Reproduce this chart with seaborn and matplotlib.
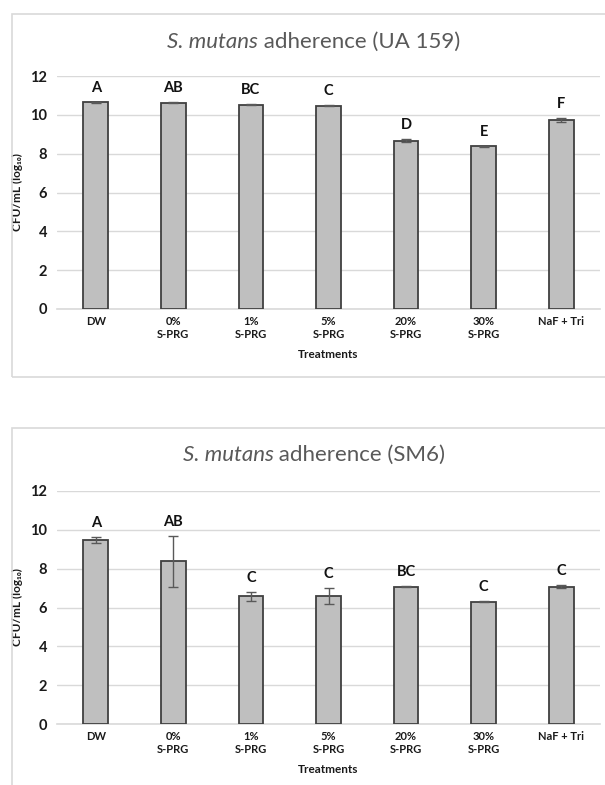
import matplotlib
matplotlib.use("Agg")
import matplotlib.pyplot as plt
import seaborn as sns
import pandas as pd
from matplotlib.patches import Rectangle

# Data
treatments = ["DW", "0%\nS-PRG", "1%\nS-PRG", "5%\nS-PRG", "20%\nS-PRG", "30%\nS-PRG", "NaF + Tri"]

ua159_mean = [10.65, 10.62, 10.52, 10.48, 8.67, 8.38, 9.75]
ua159_err = [0.02, 0.02, 0.02, 0.02, 0.08, 0.04, 0.10]
ua159_letters = ["A", "AB", "BC", "C", "D", "E", "F"]

sm6_mean = [9.47, 8.37, 6.57, 6.60, 7.07, 6.30, 7.07]
sm6_err = [0.15, 1.32, 0.25, 0.40, 0.03, 0.03, 0.07]
sm6_letters = ["A", "AB", "C", "C", "BC", "C", "C"]

panels = [
    ("UA 159", ua159_mean, ua159_err, ua159_letters),
    ("SM6", sm6_mean, sm6_err, sm6_letters),
]

sns.set_style("white")
plt.rcParams["font.family"] = ["Lato", "DejaVu Sans"]

fig = plt.figure(figsize=(6.05, 7.85), dpi=100)
W, H = 605, 785

# Panel frames (the Excel chart areas)
fig.patches.append(Rectangle((12 / W, 1 - 377 / H), 1.0, (377 - 14) / H,
                             transform=fig.transFigure, fill=False,
                             edgecolor="#d9d9d9", lw=1.2))
fig.patches.append(Rectangle((12 / W, -0.05), 1.0, (785 - 428) / H + 0.05,
                             transform=fig.transFigure, fill=False,
                             edgecolor="#d9d9d9", lw=1.2))

axes_pos = [
    [57 / W, (H - 309) / H, (600 - 57) / W, 233 / H],
    [57 / W, (H - 724) / H, (600 - 57) / W, 233 / H],
]
title_y = [1 - 42 / H, 1 - 455 / H]

fig.canvas.draw()
renderer = fig.canvas.get_renderer()

for (strain, means, errs, letters), pos, ty in zip(panels, axes_pos, title_y):
    ax = fig.add_axes(pos)
    df = pd.DataFrame({"Treatment": treatments, "Value": means})
    sns.barplot(data=df, x="Treatment", y="Value", ax=ax, color="#bfbfbf",
                saturation=1, width=0.32, edgecolor="#404040", linewidth=1.3,
                errorbar=None, zorder=3)
    ax.errorbar(range(len(treatments)), means, yerr=errs, fmt="none",
                ecolor="#595959", elinewidth=1, capsize=3.5, capthick=1, zorder=4)
    for i, (m, e, lab) in enumerate(zip(means, errs, letters)):
        ax.annotate(lab, (i, m + e), xytext=(0, 5), textcoords="offset points",
                    ha="center", va="bottom", fontsize=10.5, fontweight="bold",
                    color="#111111")

    ax.set_xlim(-0.5, 6.5)
    ax.set_ylim(0, 12)
    ax.set_yticks([0, 2, 4, 6, 8, 10, 12])
    ax.yaxis.grid(True, color="#d9d9d9", lw=1)
    ax.set_axisbelow(True)
    for s in ["top", "right", "left"]:
        ax.spines[s].set_visible(False)
    ax.spines["bottom"].set_color("#d9d9d9")
    ax.spines["bottom"].set_linewidth(1.2)
    ax.tick_params(axis="both", length=0)
    ax.tick_params(axis="y", pad=7, labelsize=10.5, labelcolor="#1a1a1a")
    ax.tick_params(axis="x", pad=5, labelsize=8, labelcolor="#1a1a1a")
    for t in ax.get_xticklabels() + ax.get_yticklabels():
        t.set_fontweight("bold")
    ax.set_xlabel("Treatments", fontsize=8.5, fontweight="bold", color="#1a1a1a", labelpad=7)
    ax.set_ylabel("CFU/mL (log\u2081\u2080)", fontsize=8.5, fontweight="bold",
                  color="#1a1a1a", labelpad=5)

    # two-part title: italic species name + regular text, centred as a whole
    t1 = fig.text(0, ty, "S. mutans", style="italic", fontsize=16,
                  color="#595959", ha="left", va="center")
    t2 = fig.text(0, ty, " adherence (" + strain + ")", fontsize=16,
                  color="#595959", ha="left", va="center")
    w1 = t1.get_window_extent(renderer).width / W
    w2 = t2.get_window_extent(renderer).width / W
    x0 = 314 / W - (w1 + w2) / 2
    t1.set_x(x0)
    t2.set_x(x0 + w1)

fig.savefig("out.png", dpi=100)
